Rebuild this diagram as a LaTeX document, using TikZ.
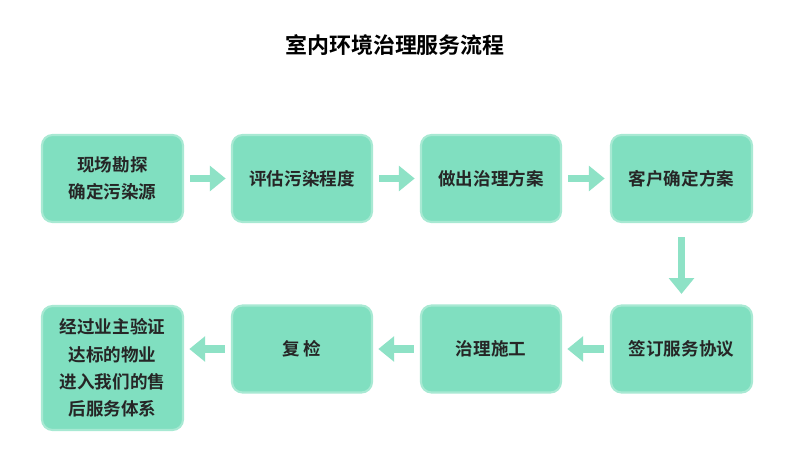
\documentclass[tikz,border=0pt]{standalone}
\usepackage{fontspec}
\setmainfont{Noto Sans CJK SC}[BoldFont={Noto Sans CJK SC Bold}]
\usetikzlibrary{arrows.meta}
\definecolor{mint}{HTML}{80DFC0}
\definecolor{mintedge}{HTML}{A8E9D3}
\definecolor{arrowmint}{HTML}{8EE2C6}
\tikzset{>=latex}
\tikzset{
  stepbox/.style={draw=mintedge, line width=1.2pt, fill=mint, rounded corners=6pt,
    align=center, font=\fontsize{10}{15.5}\selectfont\bfseries, text=black!85,
    inner sep=0pt},
  flow/.style={draw=arrowmint, line width=4.5pt, -{Triangle[length=9pt,width=14pt]}}
}
\begin{document}
\begin{tikzpicture}[x=0.02cm,y=-0.02cm]

% Canvas
\useasboundingbox (0,0) rectangle (790,476);
\fill[white] (0,0) rectangle (790,476);

% Title
\node[font=\fontsize{12.5}{15}\selectfont\bfseries] (title) at (395,45) {室内环境治理服务流程};

% Boxes, first row
\node[stepbox, minimum width=141*0.02cm, minimum height=87*0.02cm] (survey) at (112.5,178.5) {现场勘探\\确定污染源};
\node[stepbox, minimum width=140*0.02cm, minimum height=87*0.02cm] (assess) at (302,178.5) {评估污染程度};
\node[stepbox, minimum width=140*0.02cm, minimum height=87*0.02cm] (plan) at (491,178.5) {做出治理方案};
\node[stepbox, minimum width=141*0.02cm, minimum height=87*0.02cm] (confirm) at (681.5,178.5) {客户确定方案};

% Boxes, second row
\node[stepbox, minimum width=141*0.02cm, minimum height=87*0.02cm] (sign) at (681.5,349) {签订服务协议};
\node[stepbox, minimum width=140*0.02cm, minimum height=87*0.02cm] (work) at (491,349) {治理施工};
\node[stepbox, minimum width=140*0.02cm, minimum height=87*0.02cm] (recheck) at (302,349) {复\ 检};
\node[stepbox, minimum width=141*0.02cm, minimum height=124*0.02cm] (after) at (112.5,368) {经过业主验证\\达标的物业\\进入我们的售\\后服务体系};

% Arrows
\draw[flow] ([xshift=3.5pt]survey.east) -- ([xshift=-3pt]assess.west);
\draw[flow] ([xshift=3.5pt]assess.east) -- ([xshift=-3pt]plan.west);
\draw[flow] ([xshift=3.5pt]plan.east) -- ([xshift=-3pt]confirm.west);
\draw[flow] ([yshift=-8pt]confirm.south) -- ([yshift=6pt]sign.north);
\draw[flow] ([xshift=-3.5pt]sign.west) -- ([xshift=3pt]work.east);
\draw[flow] ([xshift=-3.5pt]work.west) -- ([xshift=3pt]recheck.east);
\draw[flow] ([xshift=-3.5pt]recheck.west) -- ([xshift=3pt]after.east|-recheck.west);

\end{tikzpicture}
\end{document}
